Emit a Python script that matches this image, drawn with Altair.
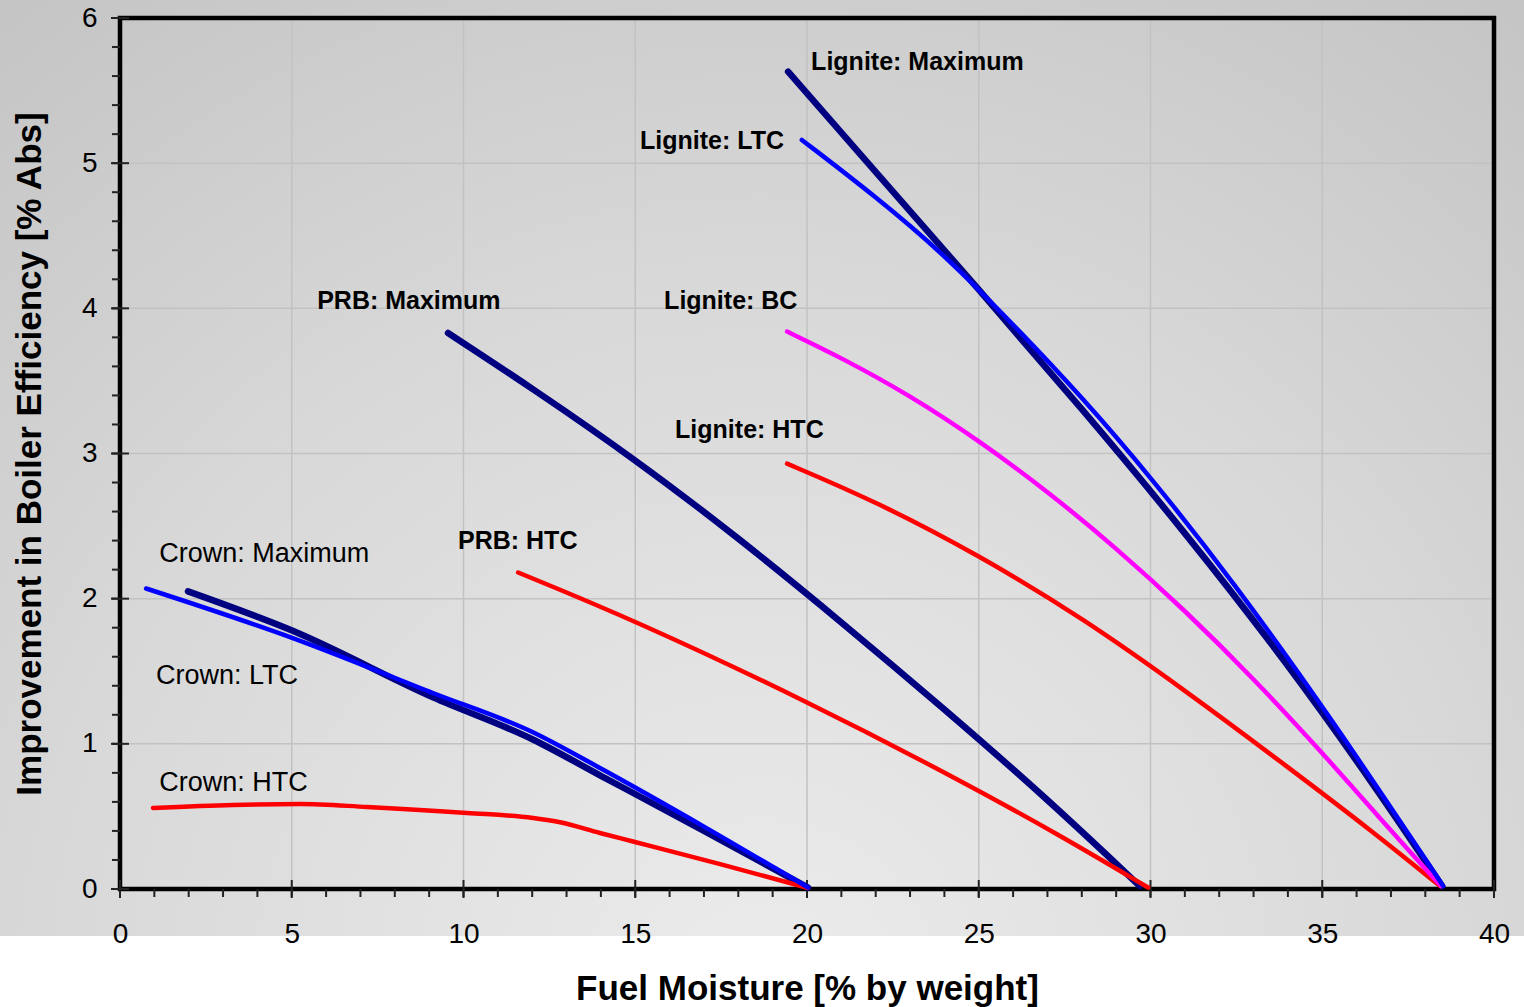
import altair as alt
import pandas as pd

# ---------------- data ----------------
crown_max_x = [1.98, 5.01, 9.11, 12.02, 14.0, 17.0, 20.03]
crown_max_y = [2.05, 1.78, 1.32, 1.03, 0.78, 0.40, 0.01]

crown_ltc_x = [0.76, 5.01, 9.11, 12.02, 14.0, 17.0, 20.03]
crown_ltc_y = [2.07, 1.73, 1.35, 1.08, 0.83, 0.43, 0.01]

crown_htc_x = [0.96, 3.29, 5.24, 7.19, 10.10, 12.02, 12.81, 13.97, 14.99, 17.5, 20.03]
crown_htc_y = [0.558, 0.579, 0.586, 0.565, 0.524, 0.489, 0.46, 0.386, 0.324, 0.17, 0.007]

prb_max_x = [9.55, 12.0, 15.0, 18.0, 21.0, 24.0, 27.0, 29.69]
prb_max_y = [3.83, 3.45, 2.96, 2.42, 1.84, 1.24, 0.62, 0.02]

prb_htc_x = [11.59, 14.99, 20.03, 24.45, 27.36, 29.93]
prb_htc_y = [2.18, 1.85, 1.29, 0.75, 0.37, 0.01]

lig_max_x = [19.45, 22.0, 25.0, 28.0, 31.0, 34.0, 36.5, 38.49]
lig_max_y = [5.63, 4.94, 4.13, 3.31, 2.46, 1.55, 0.72, 0.02]

lig_ltc_x = [19.85, 22.0, 24.0, 26.0, 28.0, 30.0, 32.4, 35.23, 38.52]
lig_ltc_y = [5.16, 4.77, 4.37, 3.89, 3.39, 2.84, 2.12, 1.19, 0.02]

lig_bc_x = [19.42, 21.0, 23.0, 25.0, 27.0, 29.0, 31.0, 33.0, 35.0, 37.0, 38.46]
lig_bc_y = [3.84, 3.66, 3.40, 3.09, 2.74, 2.35, 1.92, 1.45, 0.94, 0.40, 0.02]

lig_htc_x = [19.42, 22.0, 25.0, 28.0, 31.0, 34.0, 36.5, 38.43]
lig_htc_y = [2.93, 2.67, 2.30, 1.87, 1.37, 0.84, 0.39, 0.02]

label_text = ["Lignite: Maximum", "Lignite: LTC", "PRB: Maximum", "Lignite: BC",
              "Lignite: HTC", "PRB: HTC", "Crown: Maximum", "Crown: LTC", "Crown: HTC"]
label_x = [20.12, 15.14, 5.74, 15.84, 16.16, 9.84, 1.14, 1.05, 1.14]
label_y = [5.70, 5.15, 4.05, 4.05, 3.16, 2.40, 2.31, 1.47, 0.73]
label_bold = [True, True, True, True, True, True, False, False, False]

x_major = [0, 5, 10, 15, 20, 25, 30, 35, 40]
x_minor = list(range(0, 41))
y_major = [0, 1, 2, 3, 4, 5, 6]
y_minor = [i / 5 for i in range(0, 31)]

# ---------------- layout / style ----------------
W, H = 1374, 871
FONT = "Liberation Sans"
NAVY, BLUE, RED, MAGENTA = "#000080", "#0000ff", "#ff0000", "#ff00ff"

xs = alt.Scale(domain=[0, 40], nice=False, zero=False)
ys = alt.Scale(domain=[0, 6], nice=False, zero=False)

one = pd.DataFrame({"a": [0]})

bg = alt.Chart(one).mark_rect(
    color={
        "gradient": "radial",
        "x1": 0.5, "y1": 0.85, "r1": 0.0,
        "x2": 0.5, "y2": 0.85, "r2": 0.95,
        "stops": [
            {"offset": 0, "color": "#ececec"},
            {"offset": 0.5, "color": "#d8d8d8"},
            {"offset": 1, "color": "#bdbdbd"},
        ],
    }
).encode(
    x=alt.value(-120), x2=alt.value(W + 30), y=alt.value(-18), y2=alt.value(H + 47)
)

gx = alt.Chart(pd.DataFrame({"v": x_major})).mark_rule(color="#c2c2c2", strokeWidth=1.5).encode(
    x=alt.X("v:Q", scale=xs), y=alt.value(0), y2=alt.value(H)
)
gy = alt.Chart(pd.DataFrame({"v": y_major})).mark_rule(color="#c2c2c2", strokeWidth=1.5).encode(
    y=alt.Y("v:Q", scale=ys), x=alt.value(0), x2=alt.value(W)
)

frame = alt.Chart(one).mark_rect(fill=None, stroke="black", strokeWidth=4.5).encode(
    x=alt.value(0), x2=alt.value(W), y=alt.value(0), y2=alt.value(H)
)

tx_min = alt.Chart(pd.DataFrame({"v": x_minor})).mark_rule(color="#222222", strokeWidth=2).encode(
    x=alt.X("v:Q", scale=xs), y=alt.value(H), y2=alt.value(H + 8)
)
tx_maj = alt.Chart(pd.DataFrame({"v": x_major})).mark_rule(color="#222222", strokeWidth=2).encode(
    x=alt.X("v:Q", scale=xs), y=alt.value(H - 9), y2=alt.value(H + 9)
)
ty_min = alt.Chart(pd.DataFrame({"v": y_minor})).mark_rule(color="#222222", strokeWidth=2).encode(
    y=alt.Y("v:Q", scale=ys), x=alt.value(-8), x2=alt.value(0)
)
ty_maj = alt.Chart(pd.DataFrame({"v": y_major})).mark_rule(color="#222222", strokeWidth=2).encode(
    y=alt.Y("v:Q", scale=ys), x=alt.value(-9), x2=alt.value(9)
)

x_axis = alt.Axis(title="Fuel Moisture [% by weight]", values=x_major, ticks=False,
                  domain=False, grid=False, labelFontSize=28, labelFont=FONT,
                  labelColor="black", labelPadding=31, labelBaseline="top", labelFlush=False,
                  titleFont=FONT, titleFontSize=35, titleFontWeight="bold",
                  titleColor="black", titleX=W / 2, titleY=99,
                  titleBaseline="middle", titleAlign="center", zindex=1)
y_axis = alt.Axis(title="Improvement in Boiler Efficiency [% Abs]", values=y_major, format="d",
                  ticks=False, domain=False, grid=False, labelFontSize=28,
                  labelFont=FONT, labelColor="black", labelPadding=23, labelFlush=False,
                  titleFont=FONT, titleFontSize=35, titleFontWeight="bold",
                  titleColor="black", titleX=-91, titleY=H / 2,
                  titleBaseline="middle", titleAlign="center", titleAngle=270,
                  zindex=1)


def line(xv, yv, color, width, interp="basis"):
    df = pd.DataFrame({"x": xv, "y": yv, "o": list(range(len(xv)))})
    return alt.Chart(df).mark_line(
        color=color, strokeWidth=width, interpolate=interp, strokeCap="round", strokeJoin="round"
    ).encode(
        x=alt.X("x:Q", scale=xs, axis=x_axis),
        y=alt.Y("y:Q", scale=ys, axis=y_axis),
        order="o:Q",
    )


lines = [
    line(crown_max_x, crown_max_y, NAVY, 6.5, "monotone"),
    line(prb_max_x, prb_max_y, NAVY, 6.5),
    line(lig_max_x, lig_max_y, NAVY, 6.5),
    line(crown_htc_x, crown_htc_y, RED, 4.5, "monotone"),
    line(prb_htc_x, prb_htc_y, RED, 4.5),
    line(lig_htc_x, lig_htc_y, RED, 4.5),
    line(lig_bc_x, lig_bc_y, MAGENTA, 4.5),
    line(crown_ltc_x, crown_ltc_y, BLUE, 4.5, "monotone"),
    line(lig_ltc_x, lig_ltc_y, BLUE, 4.5),
]

lab = pd.DataFrame({"t": label_text, "x": label_x, "y": label_y, "b": label_bold})
bold_lab = alt.Chart(lab[lab.b]).mark_text(
    font=FONT, fontSize=25, fontWeight="bold", align="left", baseline="middle", color="black"
).encode(x=alt.X("x:Q", scale=xs), y=alt.Y("y:Q", scale=ys), text="t:N")
norm_lab = alt.Chart(lab[~lab.b]).mark_text(
    font=FONT, fontSize=27, fontWeight="normal", align="left", baseline="middle", color="black"
).encode(x=alt.X("x:Q", scale=xs), y=alt.Y("y:Q", scale=ys), text="t:N")

chart = alt.layer(
    bg, gx, gy, frame, tx_min, tx_maj, ty_min, ty_maj, *lines, bold_lab, norm_lab
).properties(
    width=W, height=H,
    padding={"left": 120, "top": 18, "right": 30, "bottom": 118},
    autosize=alt.AutoSizeParams(type="none"),
    background="white",
).configure_view(stroke=None)

chart.save("out.html", embed_options={"renderer": "svg", "actions": False})
